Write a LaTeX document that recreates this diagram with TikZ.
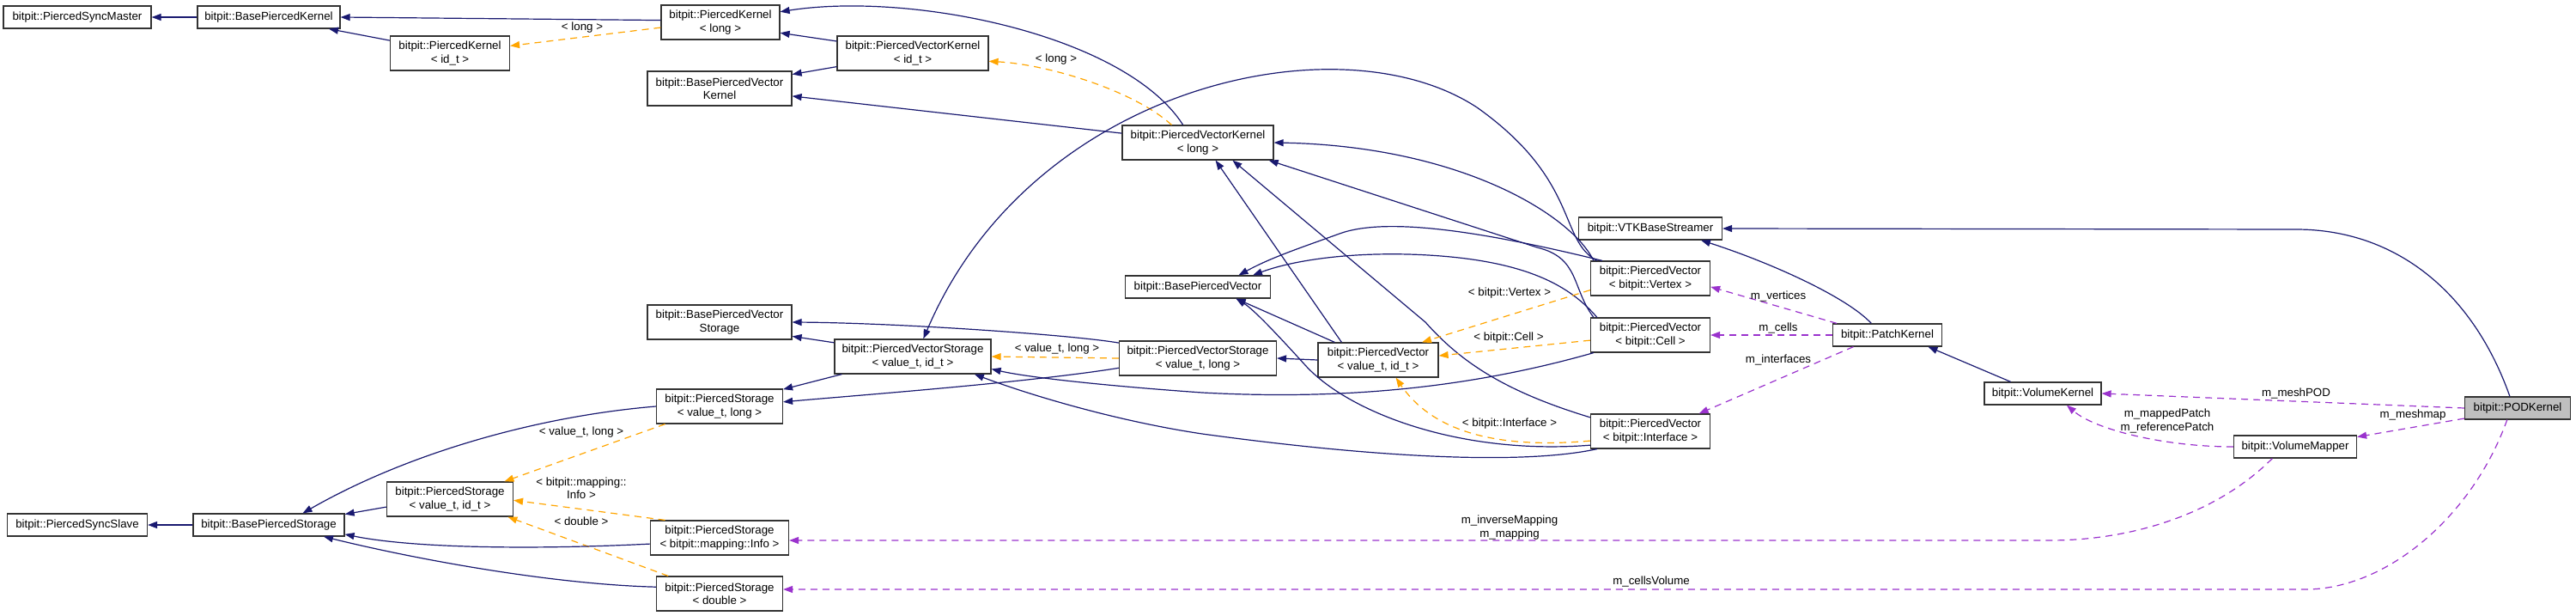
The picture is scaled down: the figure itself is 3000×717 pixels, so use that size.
\documentclass[tikz,border=0pt]{standalone}
\usepackage{fontspec}
\setmainfont{Liberation Sans}
\usetikzlibrary{arrows.meta}
\definecolor{inhblue}{HTML}{191970}
\definecolor{tplorange}{HTML}{FFA500}
\definecolor{usepurple}{HTML}{9A32CD}
\definecolor{selfgray}{HTML}{BFBFBF}

\begin{document}
\begin{tikzpicture}[x=1pt, y=-1pt,
  >={Triangle[length=11pt,width=8pt]},
  cls/.style={draw=black!80, line width=1.2pt, fill=white, align=center,
    inner xsep=3pt, inner ysep=1pt, minimum height=26pt,
    font=\fontsize{13.3}{15.5}\selectfont},
  cls2/.style={cls, minimum height=40pt},
  inh/.style={->, draw=inhblue, line width=1.2pt},
  tpl/.style={->, draw=tplorange, line width=1.2pt, dash pattern=on 8pt off 6pt},
  usg/.style={->, draw=usepurple, line width=1.2pt, dash pattern=on 8pt off 6pt},
  lbl/.style={font=\fontsize{13.3}{15.5}\selectfont, align=center, inner sep=0pt}]
\useasboundingbox (0,0) rectangle (3000,717);

% Classes
\node[cls, minimum width=172pt] (syncmaster) at (90,20) {bitpit::PiercedSyncMaster};
\node[cls, minimum width=166pt] (bpkernel) at (313,20) {bitpit::BasePiercedKernel};
\node[cls2, minimum width=139pt] (pkid) at (524,62) {bitpit::PiercedKernel\\< id\_t >};
\node[cls2, minimum width=138pt] (pklong) at (839,26) {bitpit::PiercedKernel\\< long >};
\node[cls2, minimum width=176pt] (pvkid) at (1063,62) {bitpit::PiercedVectorKernel\\< id\_t >};
\node[cls2, minimum width=168pt] (bpvkernel) at (838,103) {bitpit::BasePiercedVector\\Kernel};
\node[cls2, minimum width=176pt] (pvklong) at (1395,166) {bitpit::PiercedVectorKernel\\< long >};
\node[cls, minimum width=169pt] (bpvector) at (1395,334) {bitpit::BasePiercedVector};
\node[cls2, minimum width=168pt] (bpvstorage) at (838,375) {bitpit::BasePiercedVector\\Storage};
\node[cls2, minimum width=182pt] (pvsid) at (1063,415) {bitpit::PiercedVectorStorage\\< value\_t, id\_t >};
\node[cls2, minimum width=147pt] (pslong) at (838,473) {bitpit::PiercedStorage\\< value\_t, long >};
\node[cls2, minimum width=183pt] (pvslong) at (1395,417) {bitpit::PiercedVectorStorage\\< value\_t, long >};
\node[cls2, minimum width=140pt] (pvid) at (1605,419) {bitpit::PiercedVector\\< value\_t, id\_t >};
\node[cls2, minimum width=139pt] (pvvertex) at (1922,324) {bitpit::PiercedVector\\< bitpit::Vertex >};
\node[cls2, minimum width=139pt] (pvcell) at (1922,390) {bitpit::PiercedVector\\< bitpit::Cell >};
\node[cls2, minimum width=139pt] (pvinterface) at (1922,502) {bitpit::PiercedVector\\< bitpit::Interface >};
\node[cls, minimum width=167pt] (vtkstreamer) at (1922,266) {bitpit::VTKBaseStreamer};
\node[cls, minimum width=127pt] (patchkernel) at (2198,390) {bitpit::PatchKernel};
\node[cls, minimum width=136pt] (volkernel) at (2379,458) {bitpit::VolumeKernel};
\node[cls, minimum width=143pt] (volmapper) at (2673,520) {bitpit::VolumeMapper};
\node[cls, minimum width=123pt, fill=selfgray] (podkernel) at (2932,475) {bitpit::PODKernel};
\node[cls, minimum width=163pt] (syncslave) at (90,611) {bitpit::PiercedSyncSlave};
\node[cls, minimum width=176pt] (bpstorage) at (313,611) {bitpit::BasePiercedStorage};
\node[cls2, minimum width=147pt] (psid) at (524,581) {bitpit::PiercedStorage\\< value\_t, id\_t >};
\node[cls2, minimum width=161pt] (psinfo) at (838,626) {bitpit::PiercedStorage\\< bitpit::mapping::Info >};
\node[cls2, minimum width=147pt] (psdouble) at (838,691) {bitpit::PiercedStorage\\< double >};

% Kernels
\draw[inh] (bpkernel) -- (syncmaster);
\draw[inh] (pkid.168.6) -- (bpkernel.-11);
\draw[inh] (pklong.178) -- (bpkernel.east);
\draw[inh] (pvkid.171) -- (pklong.-10);
\draw[inh] (pvkid.190) -- (bpvkernel.11.4);
\draw[inh] (pvklong.130) .. controls (1310,40) and (1060,-10) .. (pklong.10.7);
\draw[inh] (pvklong.173.4) -- (bpvkernel.-6.8);
\draw[tpl] (pvklong.146) .. controls (1320,105) and (1220,75) .. (pvkid.-6.5);
\node[lbl] (lpvk) at (1230,69) {< long >};
\draw[tpl] (pklong.185.8) -- (pkid.7.4);
\node[lbl] (lpk) at (678,32) {< long >};

% Vector storages
\draw[inh] (pvsid.170) -- (bpvstorage.-11.4);
\draw[inh] (pvsid.194) -- (pslong.15.9);
\draw[inh] (pvslong.187.5) .. controls (1200,445) and (1000,460) .. (pslong.4.6);
\draw[inh] (pvslong.169.4) .. controls (1250,390) and (1050,376) .. (bpvstorage.-0.7);
\draw[tpl] (pvslong.west) -- (pvsid.east);
\node[lbl] (lpvs) at (1231,406) {< value\_t, long >};
\draw[inh] (pvid.west) -- (pvslong.east);

% Pierced vectors
\draw[inh] ([xshift=8pt]pvvertex.north west) .. controls (1815,280) and (1840,210) .. (1720,125)
  .. controls (1560,20) and (1200,100) .. (pvsid.59);
\draw[inh] ([xshift=4pt]pvvertex.north west) .. controls (1830,250) and (1700,170) .. (pvklong.east);
\draw[inh] ([xshift=4pt]pvcell.north west) .. controls (1830,335) and (1840,300) .. (1790,288) -- (pvklong.-14.6);
\draw[inh] ([xshift=14pt]pvvertex.north west) .. controls (1750,275) and (1620,250) .. (1560,272)
  .. controls (1510,290) and (1480,300) .. (bpvector.16);
\draw[inh] ([xshift=8pt]pvcell.north west) .. controls (1830,335) and (1780,300) .. (1640,296)
  .. controls (1560,294) and (1500,305) .. (bpvector.12.8);
\draw[inh] (pvinterface.193) .. controls (1700,530) and (1570,480) .. (1520,425)
  .. controls (1490,392) and (1460,360) .. (bpvector.-17.2);
\draw[inh] ([xshift=20pt]pvid.north west) -- (bpvector.-17.2);
\draw[inh] ([xshift=28pt]pvid.north west) -- (pvklong.-45);
\draw[inh] (pvinterface.167) .. controls (1750,455) and (1700,420) .. (1660,375) -- (pvklong.-27);
\draw[inh] ([xshift=4pt]pvcell.south west) .. controls (1700,455) and (1550,465) .. (1400,457)
  .. controls (1300,450) and (1200,440) .. (pvsid.-9.4);
\draw[inh] ([xshift=8pt]pvinterface.south west) .. controls (1780,540) and (1620,535) .. (1400,505)
  .. controls (1300,490) and (1200,460) .. (pvsid.-16.9);
\draw[tpl] (pvvertex.191.3) -- (pvid.22.6);
\node[lbl] (lvertex) at (1758,341) {< bitpit::Vertex >};
\draw[tpl] (pvcell.185.7) -- (pvid.4.9);
\node[lbl] (lcell) at (1757,393) {< bitpit::Cell >};
\draw[tpl] (pvinterface.189) .. controls (1720,525) and (1660,490) .. (pvid.-45);
\node[lbl] (linterface) at (1758,493) {< bitpit::Interface >};

% Patch and POD members
\draw[usg] (patchkernel.167.4) -- (pvvertex.-8.2);
\node[lbl] (lvertices) at (2071,345) {m\_vertices};
\draw[usg] (patchkernel.west) -- (pvcell.east);
\node[lbl] (lcells) at (2071,382) {m\_cells};
\draw[usg] (patchkernel.199) -- (pvinterface.20.7);
\node[lbl] (linterfaces) at (2071,419) {m\_interfaces};
\draw[inh] ([xshift=53pt]podkernel.north west) .. controls (2880,340) and (2790,267) .. (2674,267) -- (vtkstreamer.east);
\draw[inh] (patchkernel.144) .. controls (2150,345) and (2060,305) .. (vtkstreamer.-13.3);
\draw[inh] (volkernel.160) -- (patchkernel.-16.8);
\draw[usg] (podkernel.west) -- (volkernel.east);
\node[lbl] (lmeshpod) at (2674,458) {m\_meshPOD};
\draw[usg] (podkernel.191.6) -- (volmapper.9.6);
\node[lbl] (lmeshmap) at (2810,483) {m\_meshmap};
\draw[usg] (volmapper.west) .. controls (2520,520) and (2440,500) .. (volkernel.-26.6);
\node[lbl] (lpatch) at (2524,490) {m\_mappedPatch\\m\_referencePatch};
\draw[usg] (volmapper.207.5) .. controls (2580,600) and (2480,629) .. (2387,629) -- ([yshift=-3pt]psinfo.east);
\node[lbl] (lmapping) at (1758,614) {m\_inverseMapping\\m\_mapping};
\draw[usg] (podkernel.228.7) .. controls (2880,600) and (2780,686) .. (2685,686) -- ([yshift=5pt]psdouble.east);
\node[lbl] (lvolume) at (1923,677) {m\_cellsVolume};

% Storages
\draw[tpl] (pslong.198.4) -- (psid.18.2);
\node[lbl] (lpslong) at (677,503) {< value\_t, long >};
\draw[tpl] (psinfo.162.6) -- (psid.-1.6);
\node[lbl] (lpsinfo) at (677,568) {< bitpit::mapping::\\Info >};
\draw[tpl] (psdouble.161) -- (psid.-17.1);
\node[lbl] (lpsdouble) at (677,607) {< double >};
\draw[inh] (pslong.west) .. controls (620,485) and (470,530) .. (bpstorage.19.7);
\draw[inh] (psid.187.7) -- (bpstorage.8);
\draw[inh] (psinfo.185.7) .. controls (620,640) and (480,638) .. (bpstorage.-7.1);
\draw[inh] (psdouble.174.5) .. controls (640,680) and (480,650) .. (bpstorage.-12.4);
\draw[inh] (bpstorage) -- (syncslave);
\end{tikzpicture}
\end{document}
